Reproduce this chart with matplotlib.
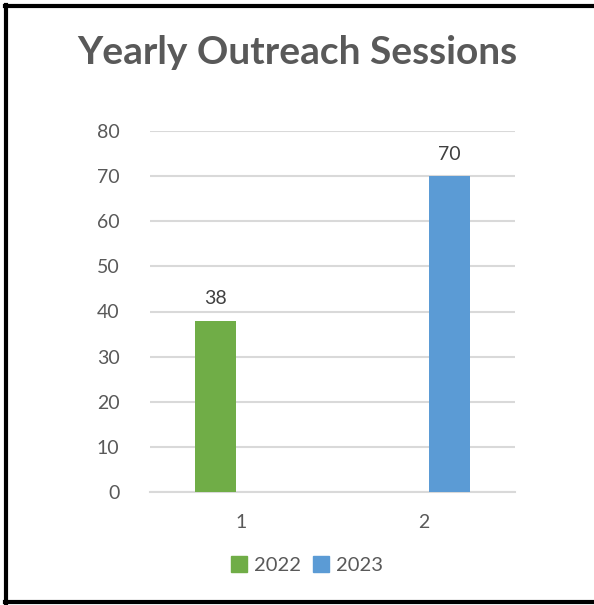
import matplotlib
matplotlib.use('Agg')
import matplotlib.pyplot as plt
from matplotlib.lines import Line2D

categories = [1, 2]
years = ['2022', '2023']
values_2022 = [38, 0]
values_2023 = [0, 70]
colors = ['#70AD47', '#5B9BD5']
yticks = [0, 10, 20, 30, 40, 50, 60, 70, 80]

plt.rcParams['font.family'] = ['Lato', 'DejaVu Sans']
txt = '#595959'

fig = plt.figure(figsize=(5.94, 6.05), dpi=100)
ax = fig.add_axes([150/594, 1-492/605, 365/594, (492-131)/605])

w = 0.224
off = 0.14
series = [values_2022, values_2023]
for i, vals in enumerate(series):
    xs = [c + (i*2-1)*off for c in categories]
    bars = ax.bar(xs, vals, width=w, color=colors[i], label=years[i], zorder=3)
    for b, v in zip(bars, vals):
        if v:
            ax.text(b.get_x()+b.get_width()/2, v+3, str(v), ha='center', va='bottom',
                    fontsize=14, color='#404040')

ax.set_xlim(0.5, 2.5)
ax.set_ylim(0, 80)
ax.set_yticks(yticks)
ax.set_xticks(categories)
ax.set_xticklabels([str(c) for c in categories])
ax.grid(axis='y', color='#D9D9D9', linewidth=1.5, zorder=0)
for s in ['top', 'right', 'left']:
    ax.spines[s].set_visible(False)
ax.spines['bottom'].set_color('#D9D9D9')
ax.spines['bottom'].set_linewidth(1.5)
ax.tick_params(axis='both', length=0, labelsize=14, labelcolor=txt)
ax.tick_params(axis='y', pad=22)
ax.tick_params(axis='x', pad=16)

fig.text(0.5, 1-53/605, 'Yearly Outreach Sessions', ha='center', va='center',
         fontsize=28, fontweight='bold', color=txt)

handles = [plt.Rectangle((0, 0), 1, 1, color=c) for c in colors]
leg = fig.legend(handles, years, loc='center', bbox_to_anchor=(0.517, 1-565/605), ncol=2,
                 frameon=False, fontsize=14.5, handlelength=0.8, handleheight=0.8,
                 handletextpad=0.35, columnspacing=0.6)
for t in leg.get_texts():
    t.set_color(txt)

# black frame around the chart
fig.add_artist(Line2D([6/594, 6/594], [1-603/605, 1-5/605], color='black', lw=3))
fig.add_artist(Line2D([5/594, 1], [1-6/605, 1-6/605], color='black', lw=3))
fig.add_artist(Line2D([5/594, 1], [1-602/605, 1-602/605], color='black', lw=3))

fig.savefig('out.png', dpi=100, facecolor='white')
